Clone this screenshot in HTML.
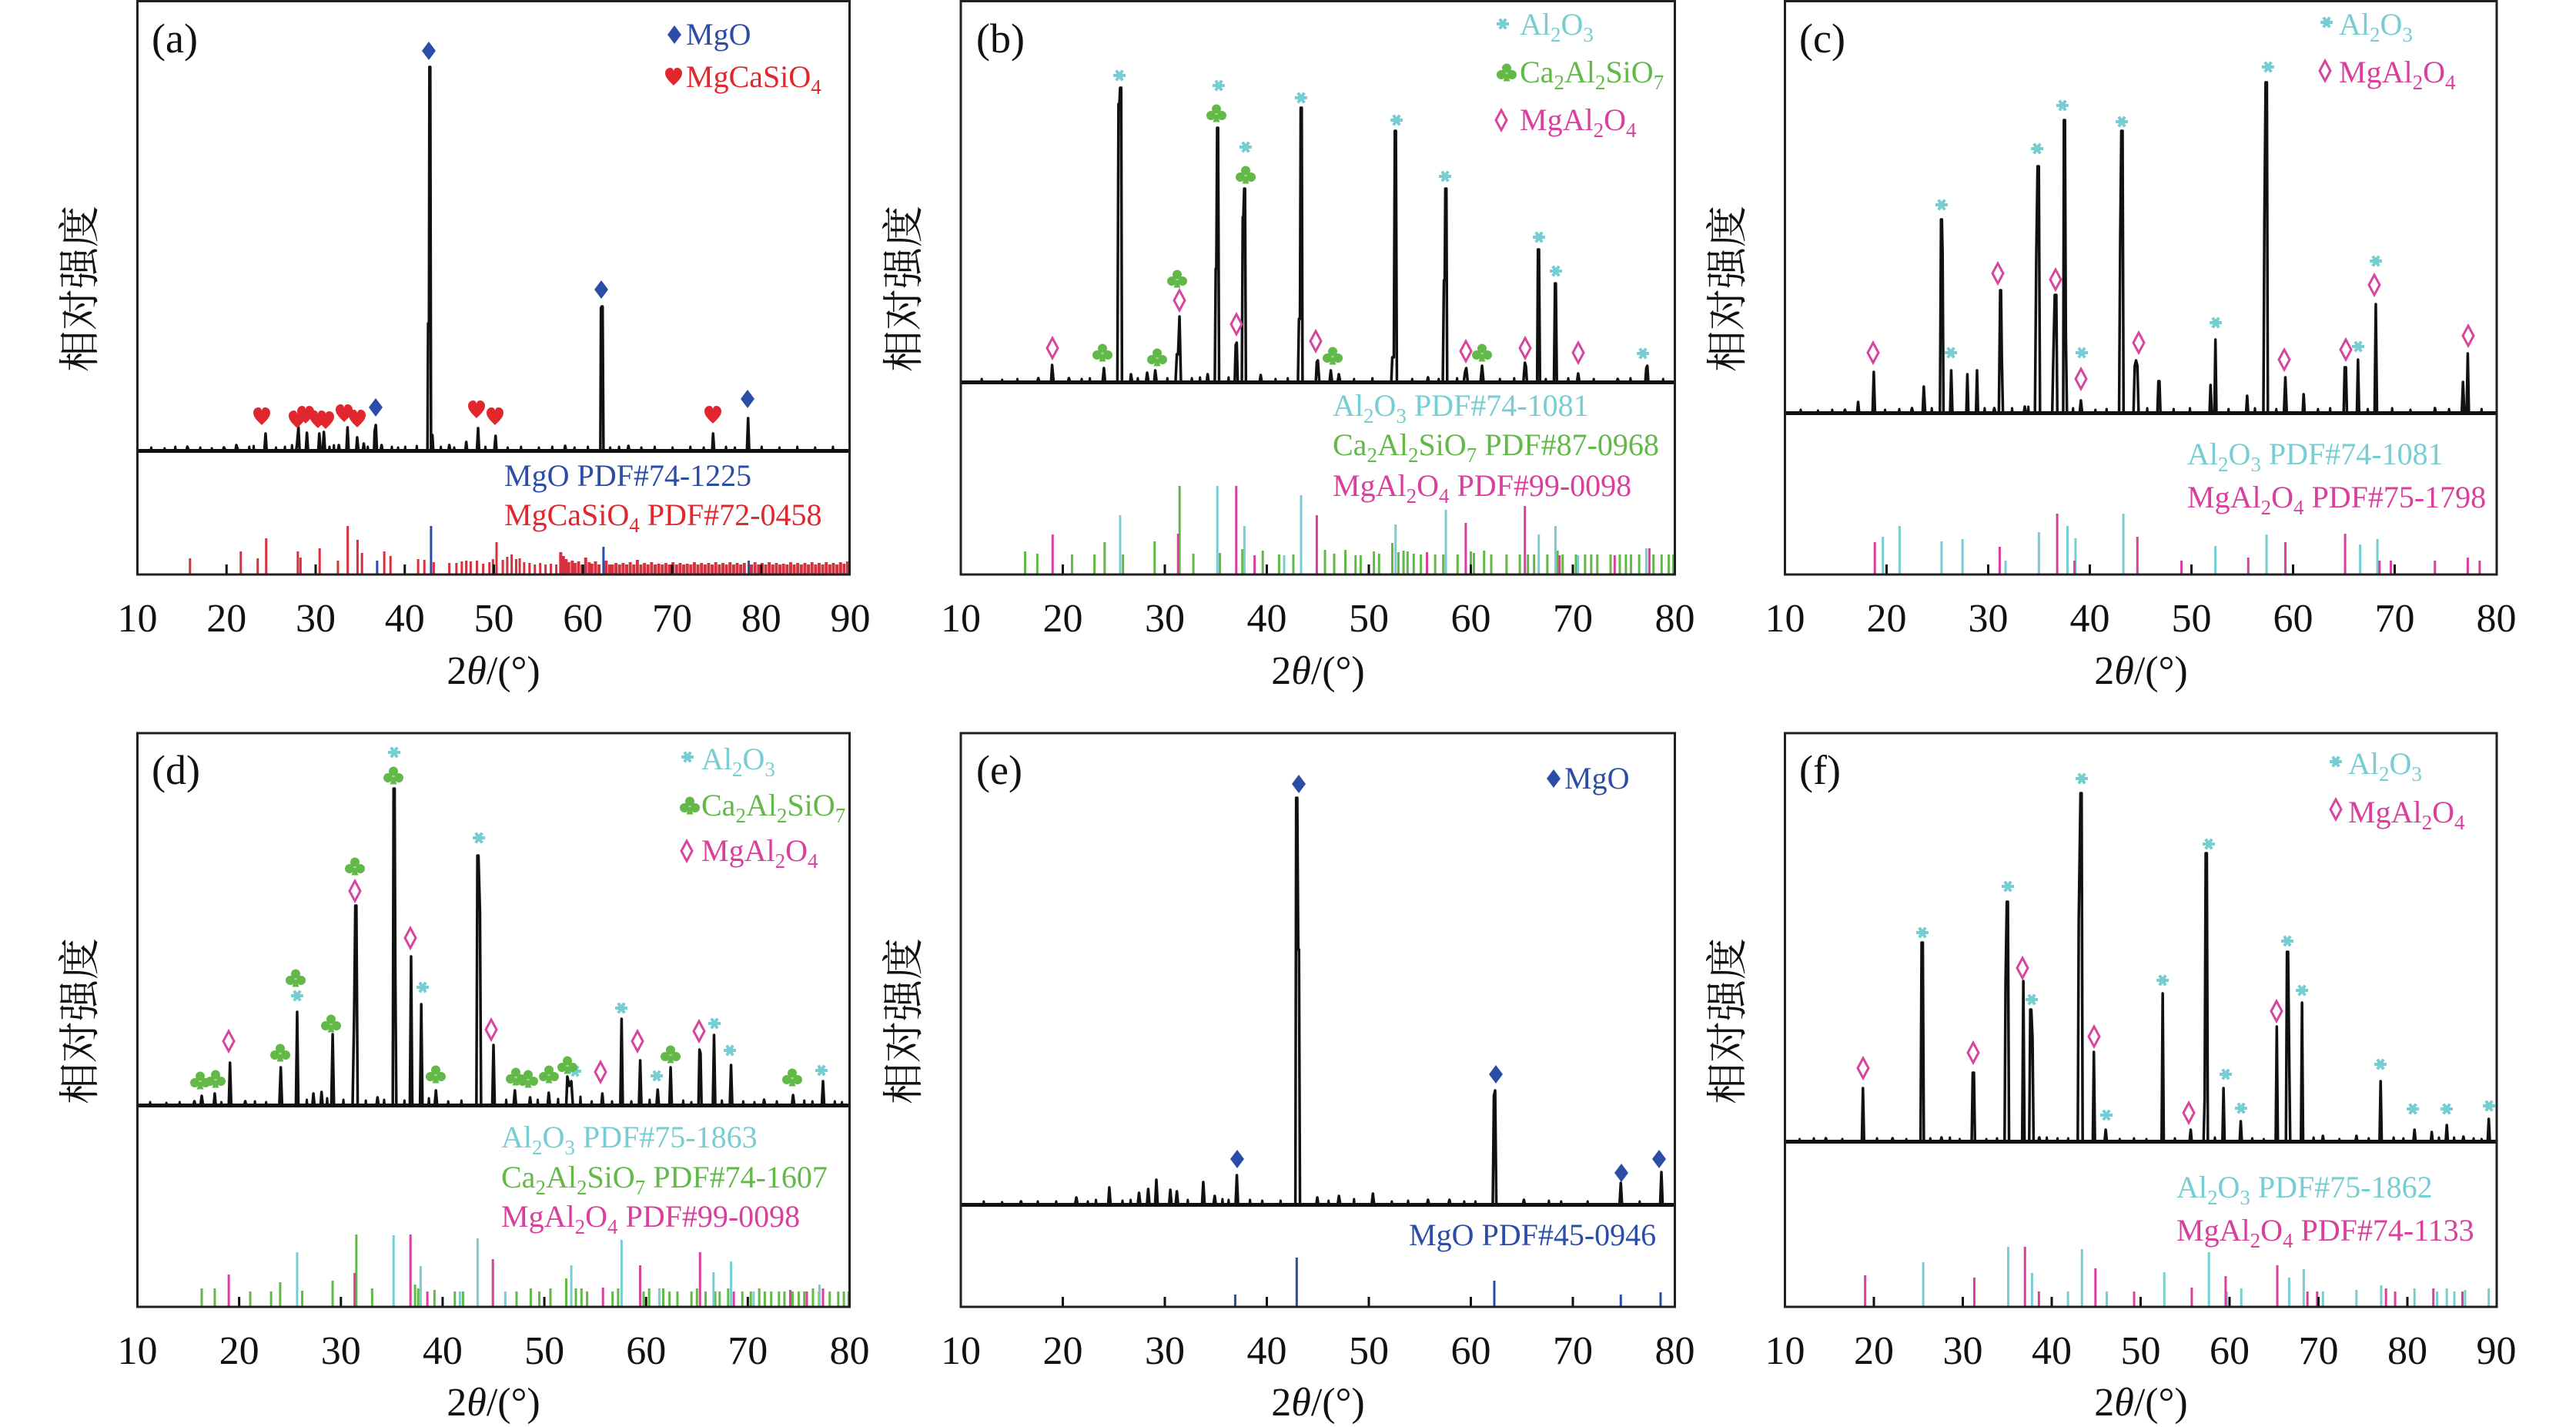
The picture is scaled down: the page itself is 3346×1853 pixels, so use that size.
<!DOCTYPE html>
<html>
<head>
<meta charset="utf-8">
<style>
html,body{margin:0;padding:0;background:#fff;}
svg{display:block;}
path,line{vector-effect:non-scaling-stroke;}
text{font-family:"Liberation Serif","Noto Serif CJK SC",serif;}
.pat{fill:none;stroke:#111;stroke-width:3.5;stroke-linejoin:round;}
.nz{fill:none;stroke:#111;stroke-width:3;stroke-linejoin:round;}
.bl{fill:none;stroke:#111;stroke-width:5;}
.tk{fill:none;stroke:#111;stroke-width:3;}
.sR{fill:none;stroke:#d7303f;stroke-width:3;}
.sR4{fill:none;stroke:#d7303f;stroke-width:4;}
.sB{fill:none;stroke:#2c4da5;stroke-width:3;}
.sC{fill:none;stroke:#76cdd2;stroke-width:3;}
.sG{fill:none;stroke:#62b947;stroke-width:3;}
.sM{fill:none;stroke:#d93f9c;stroke-width:3;}
.box{fill:none;stroke:#231f20;stroke-width:3;}
</style>
</head>
<body>
<svg width="3346" height="1853" viewBox="0 0 3346 1853" xmlns="http://www.w3.org/2000/svg">
<rect x="0" y="0" width="3346" height="1853" fill="#fff"/>
<defs>
<g id="fd"><path d="M0,-12 L9,0 L0,12 L-9,0Z" fill="#2c4da5"/></g>
<g id="ht"><path d="M0,11 C-5,6 -11,1 -11,-5 C-11,-10 -7,-12 -4.5,-12 C-2,-12 0,-10 0,-7 C0,-10 2,-12 4.5,-12 C7,-12 11,-10 11,-5 C11,1 5,6 0,11Z" fill="#e1262d"/></g>
<g id="st"><circle r="4.5" fill="#76cdd2"/><line x1="-8" y1="0" x2="8" y2="0" stroke="#76cdd2" stroke-width="4"/><line x1="-4" y1="-6.5" x2="4" y2="6.5" stroke="#76cdd2" stroke-width="4"/><line x1="-4" y1="6.5" x2="4" y2="-6.5" stroke="#76cdd2" stroke-width="4"/></g>
<g id="cl" fill="#62b947"><circle cx="0" cy="-5.5" r="6"/><circle cx="-7" cy="3" r="6"/><circle cx="7" cy="3" r="6"/><path d="M0,0 L-4.5,11.5 L4.5,11.5Z"/></g>
<g id="od"><path d="M0,-13 L7,0 L0,13 L-7,0Z" fill="#fff" stroke="#d8449e" stroke-width="3"/></g>
</defs>

<!-- ================= (a) ================= -->
<g transform="matrix(11.575 0 0 1 62.75 0)">
<path class="bl" d="M10,585.5H90"/>
<path class="nz" d="M11.5,585L11.55,581L11.6,585M13,585L13.05,582L13.1,585M14.2,585L14.25,580L14.3,585M17,585L17.05,581L17.1,585M18.3,585L18.35,582L18.4,585M22.5,585L22.55,580L22.6,585M23,585L23.05,579L23.1,585M25.5,585L25.55,581L25.6,585M26.5,585L26.55,580L26.6,585M27.3,585L27.35,578L27.4,585M31.5,585L31.55,580L31.6,585M32,585L32.05,578L32.1,585M35.8,585L35.85,580L35.9,585M38.5,585L38.55,580L38.6,585M39.2,585L39.25,581L39.3,585M40,585L40.05,580L40.1,585M41.3,585L41.35,579L41.4,585M44,585L44.05,580L44.1,585M45.5,585L45.55,581L45.6,585M49,585L49.05,580L49.1,585M51.5,585L51.55,581L51.6,585M53,585L53.05,580L53.1,585M55,585L55.05,581L55.1,585M56.5,585L56.55,580L56.6,585M59,585L59.05,581L59.1,585M60.5,585L60.55,580L60.6,585M63,585L63.05,581L63.1,585M64,585L64.05,580L64.1,585M66.5,585L66.55,581L66.6,585M68,585L68.05,580L68.1,585M70,585L70.05,581L70.1,585M72,585L72.05,580L72.1,585M73.5,585L73.55,581L73.6,585M76,585L76.05,580L76.1,585M77,585L77.05,581L77.1,585M80,585L80.05,580L80.1,585M82,585L82.05,581L82.1,585M84,585L84.05,580L84.1,585M86,585L86.05,581L86.1,585M88,585L88.05,580L88.1,585"/>
<path class="pat" d="M10,586 L15.5,586 L15.6,580 L15.8,586 L19.6,585 L19.7,581 L19.9,585 L21.0,585 L21.1,578 L21.3,585 L24.25,585 L24.38,563 L24.5,585 L27.8,585 L27.9,578 L28.07,555 L28.2,585 L28.9,585 L29.02,562 L29.15,585 L30.3,585 L30.41,563 L30.55,585 L30.8,585 L30.92,561 L31.05,585 L32.5,585 L32.6,578 L32.7,585 L33.45,585 L33.58,555 L33.7,585 L34.55,585 L34.66,568 L34.8,585 L35.3,585 L35.4,576 L35.5,585 L36.55,585 L36.62,560 L36.75,552 L36.88,585 L37.3,585 L37.4,578 L37.5,585 L42.55,585 L42.62,420 L42.72,420 L42.77,87 L42.86,87 L42.95,585 L43.05,585 L43.1,565 L43.2,585 L44.9,585 L45.0,578 L45.1,585 L46.8,585 L46.9,574 L47.0,585 L48.1,585 L48.23,556 L48.35,585 L50.05,585 L50.19,566 L50.3,585 L57.9,585 L58.0,579 L58.1,585 L61.95,585 L62.02,400 L62.1,398 L62.2,398 L62.3,585 L65,585 L65.1,579 L65.2,585 L74.5,585 L74.6,563 L74.72,585 L78.4,585 L78.53,543 L78.65,585 L90,586"/>
<path class="sR" d="M15.9,746V725M21.6,746V716M23.5,746V725M24.45,746V699M28.0,746V716M28.3,746V724M30.45,746V712M32.5,746V728M33.6,746V683M34.7,746V701M35.2,746V718M37.7,746V716M38.4,746V722M41.5,746V726M42.2,746V727M43.25,746V730M45.0,746V731M45.8,746V731M46.4,746V729M46.9,746V728M47.4,746V729M48.1,746V728M48.8,746V732M49.5,746V730M49.9,746V726M50.3,746V704M51.0,746V727M51.5,746V723M52.0,746V720M52.5,746V726M52.9,746V725M53.4,746V730M54.0,746V731M54.6,746V733M55.2,746V731M55.8,746V733M56.4,746V732M57.0,746V733"/>
<path class="sR4" d="M57.5,746V717M57.8,746V722M58.1,746V726M58.4,746V730M58.8,746V728M59.1,746V731M59.5,746V729M59.9,746V733M60.3,746V724M60.7,746V730M61.0,746V732M61.4,746V729M61.8,746V733M62.6,746V728M63.0,746V733M63.3,746V733M63.7,746V731M64.1,746V733M64.5,746V731M64.9,746V733M65.3,746V730M65.7,746V733M66.1,746V727M66.5,746V733M66.9,746V731M67.3,746V733M67.7,746V730M68.1,746V733M68.5,746V732M68.9,746V733M69.3,746V731M69.7,746V733M70.1,746V730M70.5,746V733M70.9,746V731M71.3,746V733M71.7,746V732M72.1,746V733M72.5,746V730M72.9,746V733M73.3,746V731M73.7,746V733M74.1,746V731M74.5,746V733M74.9,746V730M75.3,746V733M75.7,746V731M76.1,746V733M76.5,746V730M76.9,746V733M77.3,746V731M77.7,746V733M78.1,746V731M78.9,746V733M79.3,746V730M79.7,746V733M80.1,746V731M80.5,746V733M80.9,746V730M81.3,746V733M81.7,746V731M82.1,746V733M82.5,746V732M82.9,746V733M83.3,746V730M83.7,746V733M84.1,746V731M84.5,746V733M84.9,746V731M85.3,746V733M85.7,746V730M86.1,746V733M86.5,746V731M86.9,746V733M87.3,746V730M87.7,746V733M88.1,746V731M88.5,746V733M88.9,746V730M89.3,746V732M89.7,746V729"/>
<path class="sB" d="M36.9,746V728M42.95,746V683M62.3,746V710M78.6,746V728"/>
<path class="tk" d="M20,746V733M30,746V733M40,746V733M50,746V733M60,746V733M70,746V733M80,746V733"/>
</g>
<rect class="box" x="178.5" y="1.5" width="925" height="744.5"/>
<use href="#fd" x="557" y="66"/><use href="#fd" x="781" y="376"/><use href="#fd" x="971" y="518"/><use href="#fd" x="488" y="529"/>
<use href="#ht" x="340" y="541"/><use href="#ht" x="386" y="545"/><use href="#ht" x="397" y="539"/><use href="#ht" x="413" y="545"/><use href="#ht" x="423" y="546"/><use href="#ht" x="447" y="537"/><use href="#ht" x="464" y="544"/><use href="#ht" x="619" y="532"/><use href="#ht" x="643" y="541"/><use href="#ht" x="926" y="539"/>
<text x="197" y="68" font-size="54" fill="#111">(a)</text>
<use href="#fd" x="876" y="45"/><text x="891" y="58" font-size="40" fill="#2c4da5">MgO</text>
<use href="#ht" x="875" y="100"/><text x="891" y="113" font-size="40" fill="#e1262d">MgCaSiO<tspan font-size="27" dy="9">4</tspan></text>
<text x="655" y="631" font-size="40" fill="#2c4da5">MgO PDF#74-1225</text>
<text x="655" y="682" font-size="40" fill="#e1262d">MgCaSiO<tspan font-size="27" dy="9">4</tspan><tspan dy="-9"> PDF#72-0458</tspan></text>
<g font-size="52" fill="#111" text-anchor="middle">
<text x="178.5" y="820">10</text><text x="294.3" y="820">20</text><text x="410" y="820">30</text><text x="525.8" y="820">40</text><text x="641.5" y="820">50</text><text x="757.3" y="820">60</text><text x="873" y="820">70</text><text x="988.8" y="820">80</text><text x="1104.5" y="820">90</text>
<text x="641" y="888">2<tspan font-style="italic">θ</tspan>/(°)</text>
</g>
<text transform="translate(104,375) rotate(-90)" text-anchor="middle" dominant-baseline="central" font-size="54" fill="#111" style="font-family:'Liberation Serif','Noto Serif CJK SC',serif">相对强度</text>

<!-- ================= (b) ================= -->
<g transform="matrix(13.25 0 0 1 1115.5 0)">
<path class="bl" d="M10,496.5H80"/>
<path class="nz" d="M12,496L12.05,492L12.1,496M14,496L14.05,493L14.1,496M15.5,496L15.55,492L15.6,496M21.8,496L21.85,492L21.9,496M22.6,496L22.65,491L22.7,496M27.3,496L27.35,491L27.4,496M30.2,496L30.25,491L30.3,496M32.6,496L32.65,491L32.7,496M33.4,496L33.45,490L33.5,496M36.2,496L36.25,490L36.3,496M40.8,496L40.85,492L40.9,496M42.0,496L42.05,491L42.1,496M48.5,496L48.55,492L48.6,496M50.3,496L50.35,491L50.4,496M54.2,496L54.25,492L54.3,496M56.8,496L56.85,492L56.9,496M58.6,496L58.65,491L58.7,496M62.8,496L62.85,492L62.9,496M64.2,496L64.25,491L64.3,496M67.3,496L67.35,492L67.4,496M69.5,496L69.55,491L69.6,496M72.0,496L72.05,492L72.1,496M75.6,496L75.65,491L75.7,496M78.8,496L78.85,492L78.9,496"/>
<path class="pat" d="M10,497 L17.5,496 L17.6,491 L17.7,496 L18.85,496 L18.95,474 L19.1,496 L20.5,496 L20.6,491 L20.7,496 L23.9,496 L24.03,478 L24.15,496 L25.35,496 L25.46,135 L25.55,135 L25.62,114 L25.72,114 L25.8,496 L26.6,496 L26.68,486 L26.8,496 L28.15,496 L28.27,484 L28.4,496 L28.95,496 L29.06,481 L29.2,496 L31.05,496 L31.18,460 L31.3,460 L31.44,411 L31.58,496 L34.1,496 L34.2,486 L34.3,496 L34.9,496 L34.99,349 L35.05,349 L35.13,166 L35.22,166 L35.32,496 L36.85,496 L36.95,448 L37.05,445 L37.15,496 L37.55,496 L37.64,282 L37.7,282 L37.78,245 L37.86,245 L37.95,496 L39.3,496 L39.4,487 L39.5,496 L43.05,496 L43.15,414 L43.25,414 L43.32,140 L43.42,140 L43.5,496 L44.8,496 L44.9,470 L45.0,468 L45.15,496 L46.15,496 L46.27,481 L46.4,496 L46.95,496 L47.06,486 L47.2,496 L52.2,496 L52.3,464 L52.45,464 L52.55,170 L52.65,170 L52.75,496 L55.7,496 L55.8,490 L55.9,496 L57.25,496 L57.36,364 L57.44,364 L57.5,245 L57.6,245 L57.68,496 L59.3,496 L59.45,482 L59.55,478 L59.7,496 L60.95,496 L61.1,475 L61.25,496 L65.15,496 L65.3,471 L65.4,476 L65.5,496 L66.5,496 L66.58,324 L66.68,324 L66.78,496 L68.15,496 L68.25,368 L68.33,368 L68.43,496 L70.4,496 L70.52,485 L70.65,496 L74.3,496 L74.4,492 L74.5,496 L77.1,496 L77.2,478 L77.3,475 L77.4,496 L80,497"/>
<path class="sG" d="M16.3,746V716M17.5,746V719M20.9,746V720M23.1,746V720M24.1,746V704M25.9,746V720M29.0,746V703M31.45,746V631M32.8,746V719M35.4,746V718M37.6,746V713M39.6,746V715M41.2,746V720M42.6,746V720M45.7,746V714M46.6,746V719M47.7,746V714M48.7,746V721M49.2,746V721M50.5,746V716M51.0,746V719M52.3,746V705M52.9,746V717M53.4,746V715M53.8,746V716M54.4,746V719M55.1,746V720M56.5,746V720M57.3,746V720M58.7,746V720M60.0,746V716M60.3,746V718M61.3,746V715M62.0,746V720M63.5,746V720M64.8,746V720M65.6,746V720M66.2,746V720M67.5,746V720M68.5,746V715M69.0,746V720M70.3,746V720M71.2,746V720M71.8,746V720M72.4,746V720M73.7,746V720M74.6,746V720M75.2,746V720M75.7,746V720M76.5,746V720M77.9,746V720M78.7,746V720M79.4,746V720M79.85,746V720"/>
<path class="sC" d="M25.62,746V669M35.15,746V631M37.8,746V683M43.36,746V643M52.62,746V681M57.55,746V662M66.66,746V694M68.3,746V683M77.2,746V712M41.7,746V721M70.5,746V721"/>
<path class="sM" d="M19.0,746V694M31.3,746V693M37.0,746V631M44.9,746V669M59.5,746V679M65.3,746V657M38.8,746V721M55.7,746V717M68.7,746V721M74.1,746V721M77.5,746V712"/>
<path class="tk" d="M20,746V733M30,746V733M40,746V733M50,746V733M60,746V733M70,746V733"/>
</g>
<rect class="box" x="1248" y="1.5" width="927.5" height="744.5"/>
<use href="#st" x="1454" y="98"/><use href="#st" x="1583" y="111"/><use href="#st" x="1618" y="191"/><use href="#st" x="1690" y="127"/><use href="#st" x="1814" y="156"/><use href="#st" x="1877" y="229"/><use href="#st" x="1999" y="308"/><use href="#st" x="2021" y="352"/><use href="#st" x="2134" y="459"/>
<use href="#cl" x="1580" y="147"/><use href="#cl" x="1618" y="227"/><use href="#cl" x="1529" y="362"/><use href="#cl" x="1432" y="458"/><use href="#cl" x="1503" y="464"/><use href="#cl" x="1731" y="462"/><use href="#cl" x="1925" y="458"/>
<use href="#od" x="1367" y="452"/><use href="#od" x="1532" y="390"/><use href="#od" x="1606" y="421"/><use href="#od" x="1709" y="443"/><use href="#od" x="1904" y="456"/><use href="#od" x="1981" y="452"/><use href="#od" x="2050" y="458"/>
<text x="1268" y="68" font-size="54" fill="#111">(b)</text>
<use href="#st" x="1952" y="31"/><text x="1974" y="45" font-size="40" fill="#76cdd2">Al<tspan font-size="27" dy="9">2</tspan><tspan dy="-9">O</tspan><tspan font-size="27" dy="9">3</tspan></text>
<use href="#cl" x="1957" y="94"/><text x="1974" y="107" font-size="40" fill="#62b947">Ca<tspan font-size="27" dy="9">2</tspan><tspan dy="-9">Al</tspan><tspan font-size="27" dy="9">2</tspan><tspan dy="-9">SiO</tspan><tspan font-size="27" dy="9">7</tspan></text>
<use href="#od" x="1950" y="156"/><text x="1974" y="169" font-size="40" fill="#d93f9c">MgAl<tspan font-size="27" dy="9">2</tspan><tspan dy="-9">O</tspan><tspan font-size="27" dy="9">4</tspan></text>
<text x="1731" y="540" font-size="40" fill="#76cdd2">Al<tspan font-size="27" dy="9">2</tspan><tspan dy="-9">O</tspan><tspan font-size="27" dy="9">3</tspan><tspan dy="-9"> PDF#74-1081</tspan></text>
<text x="1731" y="591" font-size="40" fill="#62b947">Ca<tspan font-size="27" dy="9">2</tspan><tspan dy="-9">Al</tspan><tspan font-size="27" dy="9">2</tspan><tspan dy="-9">SiO</tspan><tspan font-size="27" dy="9">7</tspan><tspan dy="-9"> PDF#87-0968</tspan></text>
<text x="1731" y="644" font-size="40" fill="#d93f9c">MgAl<tspan font-size="27" dy="9">2</tspan><tspan dy="-9">O</tspan><tspan font-size="27" dy="9">4</tspan><tspan dy="-9"> PDF#99-0098</tspan></text>
<g font-size="52" fill="#111" text-anchor="middle">
<text x="1248" y="820">10</text><text x="1380.5" y="820">20</text><text x="1513" y="820">30</text><text x="1645.5" y="820">40</text><text x="1778" y="820">50</text><text x="1910.5" y="820">60</text><text x="2043" y="820">70</text><text x="2175.5" y="820">80</text>
<text x="1712" y="888">2<tspan font-style="italic">θ</tspan>/(°)</text>
</g>
<text transform="translate(1174,375) rotate(-90)" text-anchor="middle" dominant-baseline="central" font-size="54" fill="#111" style="font-family:'Liberation Serif','Noto Serif CJK SC',serif">相对强度</text>

<!-- ================= (c) ================= -->
<g transform="matrix(13.2 0 0 1 2186.5 0)">
<path class="bl" d="M10,536.5H80"/>
<path class="nz" d="M11.5,536L11.55,532L11.6,536M13.2,536L13.25,533L13.3,536M14.6,536L14.65,532L14.7,536M19.8,536L19.85,532L19.9,536M21.2,536L21.25,531L21.3,536M24.4,536L24.45,530L24.5,536M29.6,536L29.65,530L29.7,536M32.3,536L32.35,530L32.4,536M33.9,536L33.95,528L34.0,536M38.3,536L38.35,530L38.4,536M40.5,536L40.55,532L40.6,536M41.6,536L41.65,531L41.7,536M45.6,536L45.65,530L45.7,536M48.2,536L48.25,531L48.3,536M49.8,536L49.85,530L49.9,536M53.6,536L53.65,531L53.7,536M56.2,536L56.25,530L56.3,536M58.3,536L58.35,531L58.4,536M62.4,536L62.45,531L62.5,536M63.6,536L63.65,530L63.7,536M67.3,536L67.35,531L67.4,536M69.7,536L69.75,530L69.8,536M71.5,536L71.55,532L71.6,536M75.3,536L75.35,531L75.4,536M78.5,536L78.55,531L78.6,536"/>
<path class="pat" d="M10,537 L15.8,536 L15.9,532 L16.0,536 L17.1,536 L17.2,522 L17.3,536 L18.62,536 L18.74,483 L18.86,536 L22.4,536 L22.5,530 L22.6,536 L23.55,536 L23.66,502 L23.8,536 L25.25,536 L25.36,285 L25.44,285 L25.51,329 L25.6,536 L26.25,536 L26.36,481 L26.48,536 L27.85,536 L27.95,486 L28.05,536 L28.8,536 L28.9,481 L29.0,536 L30.5,536 L30.6,530 L30.7,536 L31.05,536 L31.18,377 L31.26,377 L31.34,464 L31.45,536 L33.5,536 L33.6,528 L33.7,536 L34.6,536 L34.73,335 L34.86,216 L34.98,216 L35.1,536 L36.3,536 L36.42,458 L36.55,383 L36.7,383 L36.8,536 L37.38,536 L37.45,156 L37.55,156 L37.64,434 L37.75,536 L39.0,536 L39.12,520 L39.25,536 L42.88,536 L42.99,314 L43.1,170 L43.22,170 L43.32,536 L44.3,536 L44.42,475 L44.55,468 L44.68,475 L44.8,536 L46.65,536 L46.75,495 L46.85,495 L46.95,536 L51.78,536 L51.88,500 L52.0,536 L52.26,536 L52.36,441 L52.46,536 L55.38,536 L55.48,514 L55.58,536 L57.08,536 L57.18,285 L57.3,107 L57.42,107 L57.52,536 L59.1,536 L59.24,490 L59.38,536 L60.95,536 L61.04,512 L61.14,536 L64.98,536 L65.08,477 L65.2,477 L65.3,536 L66.28,536 L66.39,467 L66.5,536 L68.02,536 L68.14,395 L68.26,536 L73.9,536 L73.96,530 L74.05,536 L76.6,536 L76.72,496 L76.85,536 L77.08,536 L77.19,459 L77.3,536 L80,537"/>
<path class="sC" d="M19.64,746V697M21.28,746V683M25.41,746V703M27.47,746V700M31.71,746V728M34.99,746V691M37.8,746V683M38.59,746V699M43.3,746V667M52.36,746V709M57.39,746V694M66.6,746V707M68.3,746V700"/>
<path class="sM" d="M18.84,746V704M31.13,746V710M36.79,746V667M38.49,746V728M44.68,746V697M49.02,746V728M55.59,746V724M59.24,746V704M65.12,746V693M68.51,746V728M69.62,746V728M73.96,746V728M77.19,746V724M78.36,746V728"/>
<path class="tk" d="M20,746V733M30,746V733M40,746V733M50,746V733M60,746V733M70,746V733"/>
</g>
<rect class="box" x="2318.5" y="1.5" width="924.5" height="744.5"/>
<use href="#st" x="2522" y="266"/><use href="#st" x="2534" y="458"/><use href="#st" x="2646" y="193"/><use href="#st" x="2679" y="137"/><use href="#st" x="2704" y="458"/><use href="#st" x="2756" y="158"/><use href="#st" x="2878" y="419"/><use href="#st" x="2946" y="87"/><use href="#st" x="3063" y="450"/><use href="#st" x="3086" y="339"/>
<use href="#od" x="2433" y="458"/><use href="#od" x="2595" y="355"/><use href="#od" x="2670" y="363"/><use href="#od" x="2703" y="492"/><use href="#od" x="2778" y="445"/><use href="#od" x="2967" y="467"/><use href="#od" x="3047" y="454"/><use href="#od" x="3084" y="370"/><use href="#od" x="3206" y="436"/>
<text x="2337" y="68" font-size="54" fill="#111">(c)</text>
<use href="#st" x="3022" y="29"/><text x="3038" y="45" font-size="40" fill="#76cdd2">Al<tspan font-size="27" dy="9">2</tspan><tspan dy="-9">O</tspan><tspan font-size="27" dy="9">3</tspan></text>
<use href="#od" x="3020" y="92"/><text x="3038" y="107" font-size="40" fill="#d93f9c">MgAl<tspan font-size="27" dy="9">2</tspan><tspan dy="-9">O</tspan><tspan font-size="27" dy="9">4</tspan></text>
<text x="2841" y="603" font-size="40" fill="#76cdd2">Al<tspan font-size="27" dy="9">2</tspan><tspan dy="-9">O</tspan><tspan font-size="27" dy="9">3</tspan><tspan dy="-9"> PDF#74-1081</tspan></text>
<text x="2841" y="659" font-size="40" fill="#d93f9c">MgAl<tspan font-size="27" dy="9">2</tspan><tspan dy="-9">O</tspan><tspan font-size="27" dy="9">4</tspan><tspan dy="-9"> PDF#75-1798</tspan></text>
<g font-size="52" fill="#111" text-anchor="middle">
<text x="2318.5" y="820">10</text><text x="2450.5" y="820">20</text><text x="2582.5" y="820">30</text><text x="2714.5" y="820">40</text><text x="2846.5" y="820">50</text><text x="2978.5" y="820">60</text><text x="3110.5" y="820">70</text><text x="3242.5" y="820">80</text>
<text x="2781" y="888">2<tspan font-style="italic">θ</tspan>/(°)</text>
</g>
<text transform="translate(2244,375) rotate(-90)" text-anchor="middle" dominant-baseline="central" font-size="54" fill="#111" style="font-family:'Liberation Serif','Noto Serif CJK SC',serif">相对强度</text>

<!-- ================= (d) ================= -->
<g transform="matrix(13.2143 0 0 1 46.357 0)">
<path class="bl" d="M10,1435.5H80"/>
<path class="nz" d="M11.2,1435L11.25,1431L11.3,1435M12.8,1435L12.85,1432L12.9,1435M14.1,1435L14.15,1431L14.2,1435M18.2,1435L18.25,1431L18.3,1435M21.5,1435L21.55,1430L21.6,1435M22.6,1435L22.65,1431L22.7,1435M26.6,1435L26.65,1428L26.7,1435M28.6,1435L28.65,1426L28.7,1435M30.2,1435L30.25,1428L30.3,1435M32.4,1435L32.45,1429L32.5,1435M34.2,1435L34.25,1428L34.3,1435M36.2,1435L36.25,1429L36.3,1435M38.6,1435L38.65,1426L38.7,1435M40.5,1435L40.55,1430L40.6,1435M41.8,1435L41.85,1429L41.9,1435M46.2,1435L46.25,1428L46.3,1435M49.3,1435L49.35,1428L49.4,1435M51.3,1435L51.35,1427L51.4,1435M53.5,1435L53.55,1424L53.6,1435M54.6,1435L54.65,1430L54.7,1435M56.6,1435L56.65,1430L56.7,1435M58.5,1435L58.55,1430L58.6,1435M60.3,1435L60.35,1428L60.4,1435M63.6,1435L63.65,1429L63.7,1435M64.4,1435L64.45,1431L64.5,1435M67.4,1435L67.45,1429L67.5,1435M69.5,1435L69.55,1430L69.6,1435M70.6,1435L70.65,1431L70.7,1435M72.8,1435L72.85,1430L72.9,1435M75.5,1435L75.55,1429L75.6,1435M76.3,1435L76.35,1430L76.4,1435M78.5,1435L78.55,1430L78.6,1435M79.2,1435L79.25,1431L79.3,1435"/>
<path class="pat" d="M10,1436 L15.5,1435 L15.6,1430 L15.7,1435 L16.2,1435 L16.32,1423 L16.45,1435 L17.5,1435 L17.6,1420 L17.7,1435 L18.98,1435 L19.1,1380 L19.22,1435 L20.5,1435 L20.6,1430 L20.7,1435 L23.95,1435 L24.09,1386 L24.22,1435 L25.58,1435 L25.7,1314 L25.82,1435 L27.2,1435 L27.3,1420 L27.4,1435 L28.0,1435 L28.1,1418 L28.2,1435 L29.06,1435 L29.19,1343 L29.32,1435 L31.15,1435 L31.3,1321 L31.42,1176 L31.52,1176 L31.65,1435 L33.5,1435 L33.6,1425 L33.7,1435 L35.1,1435 L35.18,1024 L35.28,1024 L35.35,1263 L35.45,1435 L36.78,1435 L36.9,1242 L37.02,1435 L37.78,1435 L37.9,1304 L38.02,1435 L39.22,1435 L39.34,1416 L39.46,1435 L43.32,1435 L43.42,1111 L43.52,1111 L43.67,1183 L43.78,1435 L44.88,1435 L45.0,1357 L45.12,1435 L46.98,1435 L47.1,1416 L47.22,1435 L48.5,1435 L48.6,1425 L48.7,1435 L50.32,1435 L50.43,1419 L50.55,1435 L52.15,1435 L52.26,1398 L52.45,1410 L52.65,1404 L52.8,1435 L55.6,1435 L55.7,1420 L55.8,1435 L57.47,1435 L57.59,1323 L57.71,1435 L59.3,1435 L59.42,1377 L59.54,1435 L61.02,1435 L61.14,1415 L61.26,1435 L62.29,1435 L62.41,1386 L62.53,1435 L65.15,1435 L65.25,1363 L65.35,1368 L65.45,1435 L66.56,1435 L66.68,1344 L66.8,1435 L68.23,1435 L68.35,1383 L68.47,1435 L71.5,1435 L71.6,1428 L71.7,1435 L74.33,1435 L74.45,1422 L74.57,1435 L77.27,1435 L77.39,1404 L77.51,1435 L80,1436"/>
<path class="sG" d="M16.32,1697V1673M17.6,1697V1673M21.09,1697V1677M23.14,1697V1677M24.03,1697V1665M26.2,1697V1676M29.19,1697V1663M31.52,1697V1603M33.07,1697V1673M37.29,1697V1668M37.6,1697V1673M39.2,1697V1675M41.2,1697V1677M42.0,1697V1677M47.27,1697V1677M48.66,1697V1673M49.5,1697V1677M50.6,1697V1673M52.15,1697V1660M53.1,1697V1673M53.65,1697V1673M54.2,1697V1677M56.7,1697V1677M57.25,1697V1673M59.75,1697V1677M60.3,1697V1673M61.69,1697V1673M62.3,1697V1677M63.08,1697V1677M64.46,1697V1677M65.0,1697V1673M65.85,1697V1677M66.8,1697V1677M67.23,1697V1677M68.07,1697V1673M69.46,1697V1677M70.29,1697V1677M71.12,1697V1673M71.67,1697V1677M72.3,1697V1677M73.06,1697V1677M73.6,1697V1677M74.4,1697V1677M75.0,1697V1677M75.55,1697V1677M76.4,1697V1673M77.0,1697V1677M78.05,1697V1677M78.89,1697V1677M79.44,1697V1677M79.9,1697V1677"/>
<path class="sC" d="M25.7,1697V1626M35.18,1697V1604M37.84,1697V1644M43.44,1697V1608M52.65,1697V1643M57.59,1697V1610M66.63,1697V1652M68.35,1697V1638M61.3,1697V1673M77.05,1697V1668M41.7,1697V1677M46.16,1697V1677M70.57,1697V1677"/>
<path class="sM" d="M18.98,1697V1655M31.35,1697V1653M36.84,1697V1603M44.94,1697V1635M59.42,1697V1643M65.3,1697V1626M38.5,1697V1677M55.76,1697V1672M68.62,1697V1677M74.17,1697V1675M77.39,1697V1673M75.8,1697V1677"/>
<path class="tk" d="M20,1697V1684M30,1697V1684M40,1697V1684M50,1697V1684M60,1697V1684M70,1697V1684"/>
</g>
<rect class="box" x="178.5" y="952" width="925" height="745"/>
<use href="#st" x="512" y="977"/><use href="#st" x="622" y="1088"/><use href="#st" x="386" y="1293"/><use href="#st" x="549" y="1282"/><use href="#st" x="807" y="1309"/><use href="#st" x="747" y="1391"/><use href="#st" x="853" y="1397"/><use href="#st" x="928" y="1329"/><use href="#st" x="948" y="1364"/><use href="#st" x="1067" y="1390"/>
<use href="#cl" x="511" y="1007"/><use href="#cl" x="461" y="1125"/><use href="#cl" x="384" y="1270"/><use href="#cl" x="430" y="1329"/><use href="#cl" x="364" y="1367"/><use href="#cl" x="260" y="1403"/><use href="#cl" x="280" y="1401"/><use href="#cl" x="566" y="1395"/><use href="#cl" x="670" y="1398"/><use href="#cl" x="686" y="1401"/><use href="#cl" x="713" y="1395"/><use href="#cl" x="737" y="1383"/><use href="#cl" x="871" y="1369"/><use href="#cl" x="1029" y="1399"/>
<use href="#od" x="461" y="1157"/><use href="#od" x="533" y="1218"/><use href="#od" x="297" y="1352"/><use href="#od" x="638" y="1337"/><use href="#od" x="828" y="1352"/><use href="#od" x="780" y="1392"/><use href="#od" x="908" y="1339"/>
<text x="197" y="1018" font-size="54" fill="#111">(d)</text>
<use href="#st" x="893" y="983"/><text x="911" y="999" font-size="40" fill="#76cdd2">Al<tspan font-size="27" dy="9">2</tspan><tspan dy="-9">O</tspan><tspan font-size="27" dy="9">3</tspan></text>
<use href="#cl" x="896" y="1046"/><text x="911" y="1059" font-size="40" fill="#62b947">Ca<tspan font-size="27" dy="9">2</tspan><tspan dy="-9">Al</tspan><tspan font-size="27" dy="9">2</tspan><tspan dy="-9">SiO</tspan><tspan font-size="27" dy="9">7</tspan></text>
<use href="#od" x="892" y="1105"/><text x="911" y="1118" font-size="40" fill="#d93f9c">MgAl<tspan font-size="27" dy="9">2</tspan><tspan dy="-9">O</tspan><tspan font-size="27" dy="9">4</tspan></text>
<text x="651" y="1490" font-size="40" fill="#76cdd2">Al<tspan font-size="27" dy="9">2</tspan><tspan dy="-9">O</tspan><tspan font-size="27" dy="9">3</tspan><tspan dy="-9"> PDF#75-1863</tspan></text>
<text x="651" y="1542" font-size="40" fill="#62b947">Ca<tspan font-size="27" dy="9">2</tspan><tspan dy="-9">Al</tspan><tspan font-size="27" dy="9">2</tspan><tspan dy="-9">SiO</tspan><tspan font-size="27" dy="9">7</tspan><tspan dy="-9"> PDF#74-1607</tspan></text>
<text x="651" y="1593" font-size="40" fill="#d93f9c">MgAl<tspan font-size="27" dy="9">2</tspan><tspan dy="-9">O</tspan><tspan font-size="27" dy="9">4</tspan><tspan dy="-9"> PDF#99-0098</tspan></text>
<g font-size="52" fill="#111" text-anchor="middle">
<text x="178.5" y="1771">10</text><text x="310.6" y="1771">20</text><text x="442.8" y="1771">30</text><text x="574.9" y="1771">40</text><text x="707.1" y="1771">50</text><text x="839.2" y="1771">60</text><text x="971.3" y="1771">70</text><text x="1103.5" y="1771">80</text>
<text x="641" y="1838">2<tspan font-style="italic">θ</tspan>/(°)</text>
</g>
<text transform="translate(104,1326) rotate(-90)" text-anchor="middle" dominant-baseline="central" font-size="54" fill="#111" style="font-family:'Liberation Serif','Noto Serif CJK SC',serif">相对强度</text>

<!-- ================= (e) ================= -->
<g transform="matrix(13.25 0 0 1 1115.5 0)">
<path class="bl" d="M10,1564.5H80"/>
<path class="nz" d="M12.2,1564L12.25,1560L12.3,1564M14.0,1564L14.05,1561L14.1,1564M17.5,1564L17.55,1560L17.6,1564M19.3,1564L19.35,1560L19.4,1564M22.4,1564L22.45,1560L22.5,1564M23.2,1564L23.25,1558L23.3,1564M25.8,1564L25.85,1559L25.9,1564M26.6,1564L26.65,1558L26.7,1564M32.2,1564L32.25,1558L32.3,1564M35.6,1564L35.65,1557L35.7,1564M36.2,1564L36.25,1558L36.3,1564M38.3,1564L38.35,1558L38.4,1564M39.5,1564L39.55,1559L39.6,1564M41.3,1564L41.35,1559L41.4,1564M46.0,1564L46.05,1559L46.1,1564M48.5,1564L48.55,1557L48.6,1564M52.2,1564L52.25,1560L52.3,1564M53.8,1564L53.85,1559L53.9,1564M59.3,1564L59.35,1560L59.4,1564M60.4,1564L60.45,1560L60.5,1564M67.6,1564L67.65,1559L67.7,1564M68.8,1564L68.85,1560L68.9,1564M71.4,1564L71.45,1560L71.5,1564M76.5,1564L76.55,1560L76.6,1564"/>
<path class="pat" d="M10,1565 L15.8,1564 L15.9,1560 L16.0,1564 L21.2,1564 L21.33,1555 L21.45,1564 L24.45,1564 L24.56,1542 L24.68,1564 L27.35,1564 L27.47,1549 L27.6,1564 L28.25,1564 L28.37,1544 L28.5,1564 L29.05,1564 L29.17,1532 L29.3,1564 L30.42,1564 L30.54,1545 L30.66,1564 L31.06,1564 L31.18,1547 L31.3,1564 L33.65,1564 L33.77,1535 L33.9,1564 L34.77,1564 L34.89,1553 L35.0,1564 L36.94,1564 L37.06,1526 L37.18,1564 L42.8,1564 L42.88,1036 L42.98,1036 L43.08,1233 L43.15,1233 L43.25,1564 L44.85,1564 L44.95,1555 L45.05,1564 L46.95,1564 L47.07,1553 L47.2,1564 L50.28,1564 L50.4,1550 L50.52,1564 L55.7,1564 L55.8,1558 L55.9,1564 L57.8,1564 L57.9,1558 L58.0,1564 L62.15,1564 L62.26,1423 L62.38,1416 L62.5,1564 L65.1,1564 L65.2,1558 L65.3,1564 L74.58,1564 L74.7,1536 L74.82,1564 L78.56,1564 L78.68,1522 L78.8,1564 L80,1565"/>
<path class="sB" d="M42.93,1697V1633M62.3,1697V1663M36.9,1697V1681M74.7,1697V1681M78.6,1697V1678"/>
<path class="tk" d="M20,1697V1684M30,1697V1684M40,1697V1684M50,1697V1684M60,1697V1684M70,1697V1684"/>
</g>
<rect class="box" x="1248" y="952" width="927.5" height="745"/>
<use href="#fd" x="1687" y="1018"/><use href="#fd" x="1943" y="1395"/><use href="#fd" x="1607" y="1505"/><use href="#fd" x="2106" y="1523"/><use href="#fd" x="2155" y="1505"/>
<text x="1268" y="1018" font-size="54" fill="#111">(e)</text>
<use href="#fd" x="2018" y="1011"/><text x="2032" y="1024" font-size="40" fill="#2c4da5">MgO</text>
<text x="1830" y="1617" font-size="40" fill="#2c4da5">MgO PDF#45-0946</text>
<g font-size="52" fill="#111" text-anchor="middle">
<text x="1248" y="1771">10</text><text x="1380.5" y="1771">20</text><text x="1513" y="1771">30</text><text x="1645.5" y="1771">40</text><text x="1778" y="1771">50</text><text x="1910.5" y="1771">60</text><text x="2043" y="1771">70</text><text x="2175.5" y="1771">80</text>
<text x="1712" y="1838">2<tspan font-style="italic">θ</tspan>/(°)</text>
</g>
<text transform="translate(1174,1326) rotate(-90)" text-anchor="middle" dominant-baseline="central" font-size="54" fill="#111" style="font-family:'Liberation Serif','Noto Serif CJK SC',serif">相对强度</text>

<!-- ================= (f) ================= -->
<g transform="matrix(11.55 0 0 1 2203 0)">
<path class="bl" d="M10,1482.5H90"/>
<path class="nz" d="M11.6,1482L11.65,1479L11.7,1482M13.2,1482L13.25,1478L13.3,1482M16.4,1482L16.45,1479L16.5,1482M20.3,1482L20.35,1478L20.4,1482M23.6,1482L23.65,1479L23.7,1482M26.3,1482L26.35,1478L26.4,1482M28.5,1482L28.55,1477L28.6,1482M29.6,1482L29.65,1479L29.7,1482M32.6,1482L32.65,1479L32.7,1482M33.8,1482L33.85,1478L33.9,1482M39.4,1482L39.45,1477L39.5,1482M40.6,1482L40.65,1478L40.7,1482M41.8,1482L41.85,1478L41.9,1482M47.6,1482L47.65,1479L47.7,1482M49.2,1482L49.25,1478L49.3,1482M50.6,1482L50.65,1479L50.7,1482M53.8,1482L53.85,1478L53.9,1482M58.3,1482L58.35,1477L58.4,1482M62.5,1482L62.55,1478L62.6,1482M63.8,1482L63.85,1479L63.9,1482M69.4,1482L69.45,1477L69.5,1482M72.3,1482L72.35,1479L72.4,1482M75.6,1482L75.65,1478L75.7,1482M78.4,1482L78.45,1477L78.5,1482M79.5,1482L79.55,1478L79.6,1482M83.5,1482L83.55,1477L83.6,1482M85.2,1482L85.25,1477L85.3,1482M87.4,1482L87.45,1478L87.5,1482M88.3,1482L88.35,1479L88.4,1482"/>
<path class="pat" d="M10,1483 L14.5,1482 L14.6,1478 L14.7,1482 L18.65,1482 L18.77,1413 L18.9,1482 L22,1482 L22.1,1478 L22.2,1482 L25.25,1482 L25.37,1224 L25.5,1224 L25.62,1482 L27.5,1482 L27.6,1477 L27.7,1482 L31.0,1482 L31.12,1393 L31.25,1393 L31.37,1482 L34.7,1482 L34.81,1276 L34.95,1171 L35.07,1171 L35.2,1482 L36.68,1482 L36.81,1274 L36.94,1482 L37.47,1482 L37.59,1311 L37.7,1311 L37.84,1348 L37.96,1482 L38.5,1482 L38.6,1477 L38.7,1482 L42.93,1482 L43.04,1194 L43.24,1030 L43.36,1030 L43.48,1482 L44.62,1482 L44.74,1366 L44.86,1482 L45.95,1482 L46.07,1467 L46.2,1482 L52.36,1482 L52.48,1290 L52.6,1482 L55.51,1482 L55.63,1467 L55.75,1482 L57.08,1482 L57.2,1426 L57.32,1108 L57.44,1108 L57.56,1482 L59.2,1482 L59.32,1413 L59.44,1482 L61.14,1482 L61.26,1456 L61.38,1482 L65.19,1482 L65.31,1333 L65.43,1482 L66.34,1482 L66.46,1236 L66.58,1236 L66.7,1366 L66.82,1482 L68.03,1482 L68.15,1302 L68.27,1482 L70.4,1482 L70.5,1475 L70.6,1482 L74.17,1482 L74.27,1475 L74.37,1482 L76.87,1482 L76.99,1404 L77.11,1482 L80.68,1482 L80.8,1467 L80.92,1482 L82.64,1482 L82.74,1470 L82.84,1482 L84.31,1482 L84.43,1461 L84.55,1482 L86.2,1482 L86.3,1476 L86.4,1482 L89.03,1482 L89.15,1453 L89.27,1482 L90,1483"/>
<path class="sC" d="M35.11,1697V1619M43.4,1697V1622M57.68,1697V1626M25.55,1697V1639M37.78,1697V1653M52.66,1697V1652M66.7,1697V1659M68.34,1697V1648M61.32,1697V1673M46.19,1697V1677M41.83,1697V1677M70.5,1697V1677M74.27,1697V1675M77.05,1697V1669M80.8,1697V1673M83.34,1697V1677M84.43,1697V1673M85.28,1697V1677M86.49,1697V1675M89.15,1697V1673M59.68,1697V1677"/>
<path class="sM" d="M36.99,1697V1619M19.02,1697V1656M31.3,1697V1659M44.92,1697V1647M59.56,1697V1657M65.37,1697V1643M38.56,1697V1677M49.27,1697V1677M55.75,1697V1672M68.76,1697V1677M69.85,1697V1677M77.59,1697V1673M78.62,1697V1677M82.92,1697V1673M86.19,1697V1677"/>
<path class="tk" d="M20,1697V1684M30,1697V1684M40,1697V1684M50,1697V1684M60,1697V1684M70,1697V1684M80,1697V1684"/>
</g>
<rect class="box" x="2318.5" y="952" width="924.5" height="745"/>
<use href="#st" x="2704" y="1011"/><use href="#st" x="2869" y="1096"/><use href="#st" x="2608" y="1151"/><use href="#st" x="2497" y="1211"/><use href="#st" x="2971" y="1222"/><use href="#st" x="2990" y="1286"/><use href="#st" x="2639" y="1298"/><use href="#st" x="2809" y="1273"/><use href="#st" x="2891" y="1395"/><use href="#st" x="2911" y="1439"/><use href="#st" x="2736" y="1448"/><use href="#st" x="3092" y="1382"/><use href="#st" x="3134" y="1440"/><use href="#st" x="3178" y="1440"/><use href="#st" x="3233" y="1436"/>
<use href="#od" x="2420" y="1387"/><use href="#od" x="2563" y="1367"/><use href="#od" x="2627" y="1257"/><use href="#od" x="2720" y="1346"/><use href="#od" x="2843" y="1445"/><use href="#od" x="2957" y="1313"/>
<text x="2337" y="1018" font-size="54" fill="#111">(f)</text>
<use href="#st" x="3034" y="989"/><text x="3050" y="1005" font-size="40" fill="#76cdd2">Al<tspan font-size="27" dy="9">2</tspan><tspan dy="-9">O</tspan><tspan font-size="27" dy="9">3</tspan></text>
<use href="#od" x="3034" y="1051"/><text x="3050" y="1068" font-size="40" fill="#d93f9c">MgAl<tspan font-size="27" dy="9">2</tspan><tspan dy="-9">O</tspan><tspan font-size="27" dy="9">4</tspan></text>
<text x="2827" y="1555" font-size="40" fill="#76cdd2">Al<tspan font-size="27" dy="9">2</tspan><tspan dy="-9">O</tspan><tspan font-size="27" dy="9">3</tspan><tspan dy="-9"> PDF#75-1862</tspan></text>
<text x="2827" y="1611" font-size="40" fill="#d93f9c">MgAl<tspan font-size="27" dy="9">2</tspan><tspan dy="-9">O</tspan><tspan font-size="27" dy="9">4</tspan><tspan dy="-9"> PDF#74-1133</tspan></text>
<g font-size="52" fill="#111" text-anchor="middle">
<text x="2318.5" y="1771">10</text><text x="2434" y="1771">20</text><text x="2549.5" y="1771">30</text><text x="2665" y="1771">40</text><text x="2780.5" y="1771">50</text><text x="2896" y="1771">60</text><text x="3011.5" y="1771">70</text><text x="3127" y="1771">80</text><text x="3242.5" y="1771">90</text>
<text x="2781" y="1838">2<tspan font-style="italic">θ</tspan>/(°)</text>
</g>
<text transform="translate(2244,1326) rotate(-90)" text-anchor="middle" dominant-baseline="central" font-size="54" fill="#111" style="font-family:'Liberation Serif','Noto Serif CJK SC',serif">相对强度</text>
</svg>
</body>
</html>
